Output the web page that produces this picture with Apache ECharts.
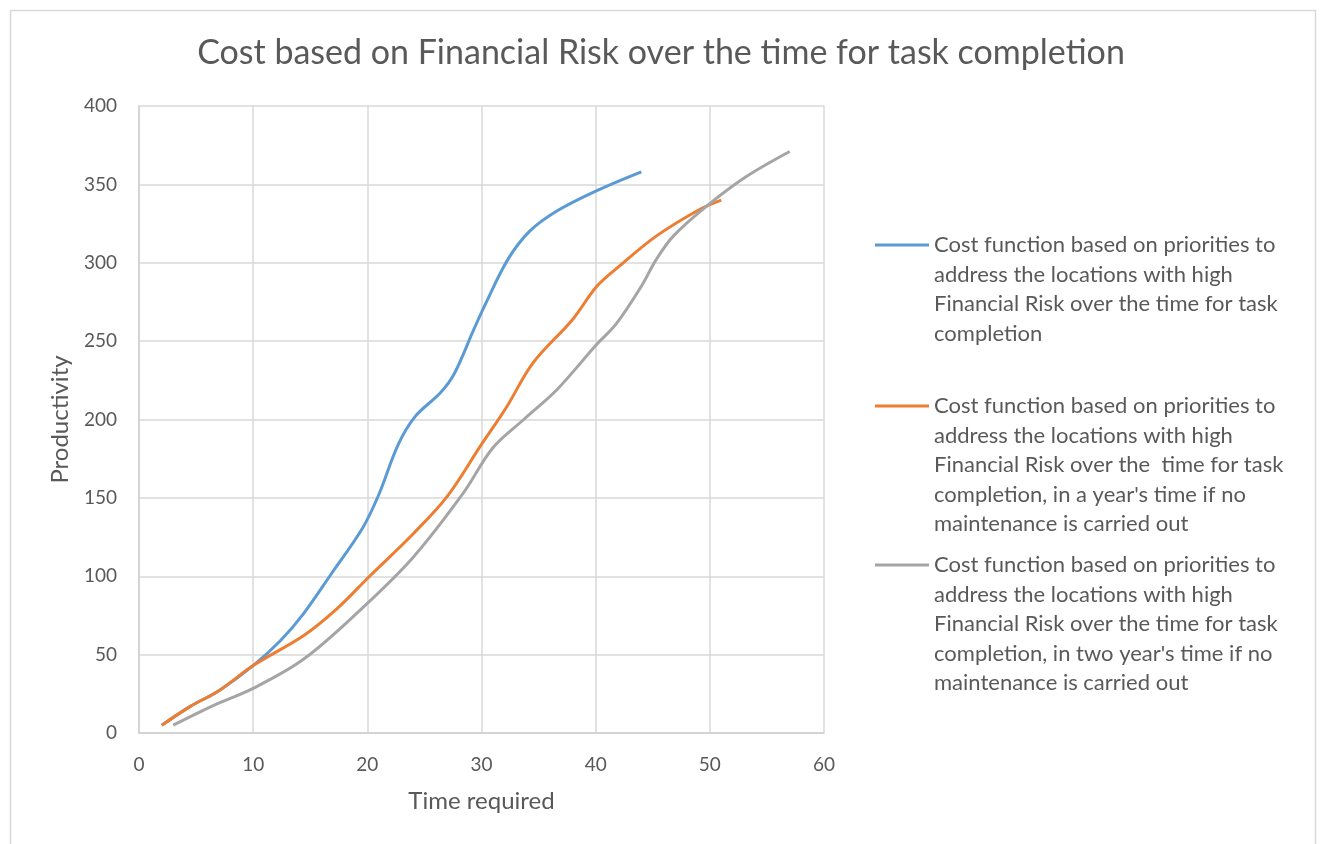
<!DOCTYPE html>
<html>
<head>
<meta charset="utf-8">
<script src="https://cdn.jsdelivr.net/npm/echarts@6/dist/echarts.min.js"></script>
<style>
  html, body { margin: 0; padding: 0; background: #ffffff; }
  #chart { width: 1322px; height: 844px; }
</style>
</head>
<body>
<div id="chart"></div>
<script>
// ---- Data ----
const chartTitle = "Cost based on Financial Risk over the time for task completion";
const xAxisName = "Time required";
const yAxisName = "Productivity";

const seriesNames = [
  "Cost function based on priorities to address the locations with high Financial Risk over the time for task completion",
  "Cost function based on priorities to address the locations with high Financial Risk over the  time for task completion, in a year's time if no maintenance is carried out",
  "Cost function based on priorities to address the locations with high Financial Risk over the time for task completion, in two year's time if no maintenance is carried out"
];
const legendLines = [
  ["Cost function based on priorities to", "address the locations with high", "Financial Risk over the time for task", "completion"],
  ["Cost function based on priorities to", "address the locations with high", "Financial Risk over the  time for task", "completion, in a year's time if no", "maintenance is carried out"],
  ["Cost function based on priorities to", "address the locations with high", "Financial Risk over the time for task", "completion, in two year's time if no", "maintenance is carried out"]
];

// Series 1 (blue): current
const blueTime = [2, 4.5, 7, 10, 12.4, 14.4, 16.7, 19.6, 21, 22.7, 24.2, 26.4, 27.6, 29.3, 30.3, 32.3, 34.2, 36.6, 40.1, 44];
const blueProd = [5, 17, 27, 43, 59, 76, 100, 131, 152, 184, 202, 217, 229, 257, 273, 302, 320, 333, 346, 358];

// Series 2 (orange): in a year
const orangeTime = [2, 4.5, 7, 10, 14.4, 17.3, 20.2, 24, 27, 29.9, 32.2, 34.5, 38, 40.1, 42.1, 45.3, 49.1, 51];
const orangeProd = [5, 17, 27, 43, 62, 79, 100, 127, 151, 183, 208, 236, 264, 285, 298, 317, 334, 340];

// Series 3 (gray): in two years
const grayTime = [3, 6.5, 10, 14.4, 19.6, 24, 28.4, 31, 33.7, 36.6, 40.1, 41.8, 44, 45.3, 46.8, 49.7, 53.2, 57];
const grayProd = [5, 17.5, 28.5, 47, 80, 112, 153, 182, 200, 219, 248, 261, 285, 302, 317, 336, 355, 371];

const xTicks = { min: 0, max: 60, interval: 10 };
const yTicks = { min: 0, max: 400, interval: 50 };

const colors = ["#5b9bd5", "#ed7d31", "#a5a5a5"];

// ---- Build ----
function pairs(xs, ys) { return xs.map((x, i) => [x, ys[i]]); }
const seriesData = [pairs(blueTime, blueProd), pairs(orangeTime, orangeProd), pairs(grayTime, grayProd)];

const FONT = "Lato, 'Open Sans', sans-serif";
const TXT = "#595959";
const LH = 29.5;
const legendFirstLineY = [245, 406, 565];

// The legend icon is centred on its text block, so blank lines are put
// above each entry to bring the icon level with the entry's first line.
const legends = seriesNames.map((name, i) => {
  const n = legendLines[i].length;
  const padLines = n - 1;
  return {
    data: [name],
    orient: "vertical",
    left: 875,
    top: legendFirstLineY[i] - padLines * LH - LH / 2,
    padding: 0,
    itemWidth: 54,
    itemHeight: 14,
    itemGap: 0,
    icon: "path://M0,0 L54,0 L54,3 L0,3 Z",
    selectedMode: false,
    formatter: () => "\n".repeat(padLines) + legendLines[i].join("\n"),
    textStyle: {
      color: TXT,
      fontFamily: FONT,
      fontSize: 22,
      lineHeight: LH
    }
  };
});

const option = {
  backgroundColor: "#ffffff",
  animation: false,
  color: colors,
  title: {
    text: chartTitle,
    left: "center",
    top: 31,
    textStyle: { color: TXT, fontFamily: FONT, fontSize: 34, fontWeight: "normal" }
  },
  legend: legends,
  grid: { left: 139, right: 498, top: 106, bottom: 111, containLabel: false },
  xAxis: {
    type: "value",
    min: xTicks.min, max: xTicks.max, interval: xTicks.interval,
    name: xAxisName,
    nameLocation: "middle",
    nameGap: 56,
    nameTextStyle: { color: TXT, fontFamily: FONT, fontSize: 24 },
    axisLine: { show: true, lineStyle: { color: "#d0d0d0", width: 1.5 } },
    axisTick: { show: false },
    axisLabel: { color: TXT, fontFamily: FONT, fontSize: 19, margin: 22 },
    splitLine: { show: true, lineStyle: { color: "#d9d9d9", width: 1.5 } }
  },
  yAxis: {
    type: "value",
    min: yTicks.min, max: yTicks.max, interval: yTicks.interval,
    name: yAxisName,
    nameLocation: "middle",
    nameRotate: 90,
    nameGap: 67,
    nameTextStyle: { color: TXT, fontFamily: FONT, fontSize: 24 },
    axisLine: { show: true, lineStyle: { color: "#d0d0d0", width: 1.5 } },
    axisTick: { show: false },
    axisLabel: { color: TXT, fontFamily: FONT, fontSize: 19, margin: 22 },
    splitLine: { show: true, lineStyle: { color: "#d9d9d9", width: 1.5 } }
  },
  graphic: [{
    type: "rect",
    left: 8, top: 8,
    shape: { width: 1305, height: 860 },
    style: { fill: "none", stroke: "#d9d9d9", lineWidth: 1.5 },
    silent: true,
    z: -1
  }],
  series: seriesNames.map((name, i) => ({
    name: name,
    type: "line",
    data: seriesData[i],
    smooth: 0.35,
    showSymbol: false,
    symbol: "none",
    lineStyle: { width: 3, color: colors[i] },
    itemStyle: { color: colors[i] }
  }))
};

const chart = echarts.init(document.getElementById("chart"), null, { renderer: "canvas" });
chart.setOption(option);
</script>
</body>
</html>
